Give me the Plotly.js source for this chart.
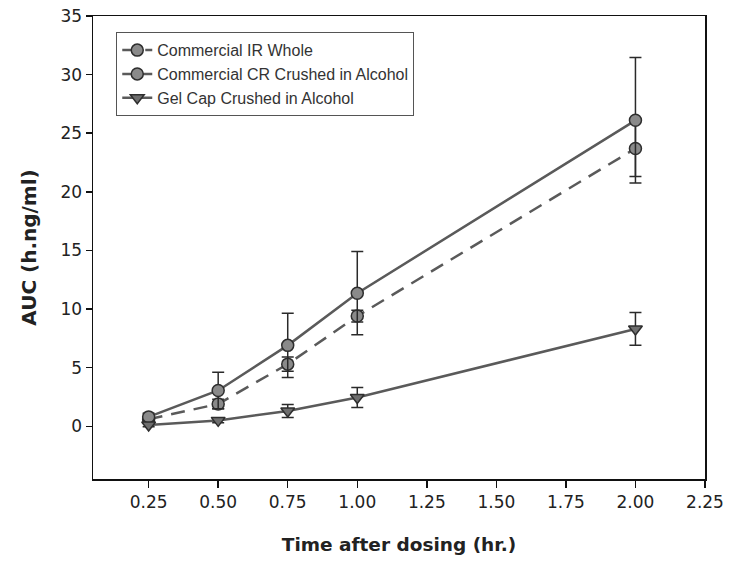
<!DOCTYPE html>
<html>
<head>
<meta charset="utf-8">
<script src="https://cdn.plot.ly/plotly-3.0.1.min.js"></script>
<style>html,body{margin:0;padding:0;background:#fff;}#chart{width:729px;height:569px;}</style>
</head>
<body>
<div id="chart"></div>
<script>
// Data
var timePoints = [0.25, 0.50, 0.75, 1.00, 2.00];
var irWhole = [0.6, 1.9, 5.3, 9.4, 23.7];
var irWholeErr = [0.2, 0.4, 0.6, 0.5, 2.4];
var crCrushed = [0.8, 3.05, 6.9, 11.35, 26.1];
var crCrushedErr = [0.3, 1.55, 2.75, 3.55, 5.35];
var gelCap = [0.1, 0.5, 1.3, 2.45, 8.3];
var gelCapErr = [0.15, 0.2, 0.55, 0.85, 1.4];
var seriesNames = ["Commercial IR Whole", "Commercial CR Crushed in Alcohol", "Gel Cap Crushed in Alcohol"];
var xTickVals = [0.25, 0.50, 0.75, 1.00, 1.25, 1.50, 1.75, 2.00, 2.25];
var xTickText = ["0.25", "0.50", "0.75", "1.00", "1.25", "1.50", "1.75", "2.00", "2.25"];
var yTickVals = [0, 5, 10, 15, 20, 25, 30, 35];

var lineColor = '#5a5a5a';
var markerFill = '#8a8a8a';
var markerEdge = '#2e2e2e';

function errBar(arr) {
  return {type: 'data', array: arr, visible: true, color: '#2a2a2a', thickness: 1.5, width: 6};
}

var traces = [
  {
    x: timePoints, y: irWhole, name: seriesNames[0], type: 'scatter', mode: 'lines+markers',
    line: {color: lineColor, width: 2.5, dash: '14px,9px'},
    marker: {symbol: 'circle', size: 12, color: markerFill, line: {color: markerEdge, width: 1.5}},
    error_y: errBar(irWholeErr)
  },
  {
    x: timePoints, y: crCrushed, name: seriesNames[1], type: 'scatter', mode: 'lines+markers',
    line: {color: lineColor, width: 2.5},
    marker: {symbol: 'circle', size: 12, color: markerFill, line: {color: markerEdge, width: 1.5}},
    error_y: errBar(crCrushedErr)
  },
  {
    x: timePoints, y: gelCap, name: seriesNames[2], type: 'scatter', mode: 'lines+markers',
    line: {color: lineColor, width: 2.5},
    marker: {symbol: 'triangle-down', size: 12, color: '#6e6e6e', line: {color: markerEdge, width: 1.5}},
    error_y: errBar(gelCapErr)
  }
];

var legendFont = 'Liberation Sans, Arial, Helvetica, sans-serif';
var axisFont = 'DejaVu Sans, Verdana, sans-serif';

var layout = {
  width: 729, height: 569,
  margin: {l: 93, r: 24, t: 16, b: 90},
  paper_bgcolor: '#fff', plot_bgcolor: '#fff',
  showlegend: true,
  legend: {
    x: 0.038, y: 0.965, xanchor: 'left', yanchor: 'top',
    bgcolor: '#fff', bordercolor: '#555', borderwidth: 1,
    font: {family: legendFont, size: 16, color: '#333'},
    tracegroupgap: 0
  },
  xaxis: {
    range: [0.05, 2.25],
    tickvals: xTickVals, ticktext: xTickText,
    ticks: 'outside', ticklen: 7, tickwidth: 1.5, tickcolor: '#111',
    showline: true, linecolor: '#111', linewidth: 1.5, mirror: true,
    showgrid: false, zeroline: false,
    tickfont: {family: axisFont, size: 17, color: '#222'},
    title: {text: '<b>Time after dosing (hr.)</b>', font: {family: axisFont, size: 18.5, color: '#222'}, standoff: 27},
    automargin: false
  },
  yaxis: {
    range: [-4.5, 35],
    tickvals: yTickVals,
    ticks: 'outside', ticklen: 6, tickwidth: 1.5, tickcolor: '#111',
    showline: true, linecolor: '#111', linewidth: 1.5, mirror: true,
    showgrid: false, zeroline: false,
    tickfont: {family: axisFont, size: 17, color: '#222'},
    title: {text: '<b>AUC (h.ng/ml)</b>', font: {family: axisFont, size: 20, color: '#222'}, standoff: 18},
    automargin: false
  }
};

Plotly.newPlot('chart', traces, layout, {displayModeBar: false, staticPlot: true});
</script>
</body>
</html>
